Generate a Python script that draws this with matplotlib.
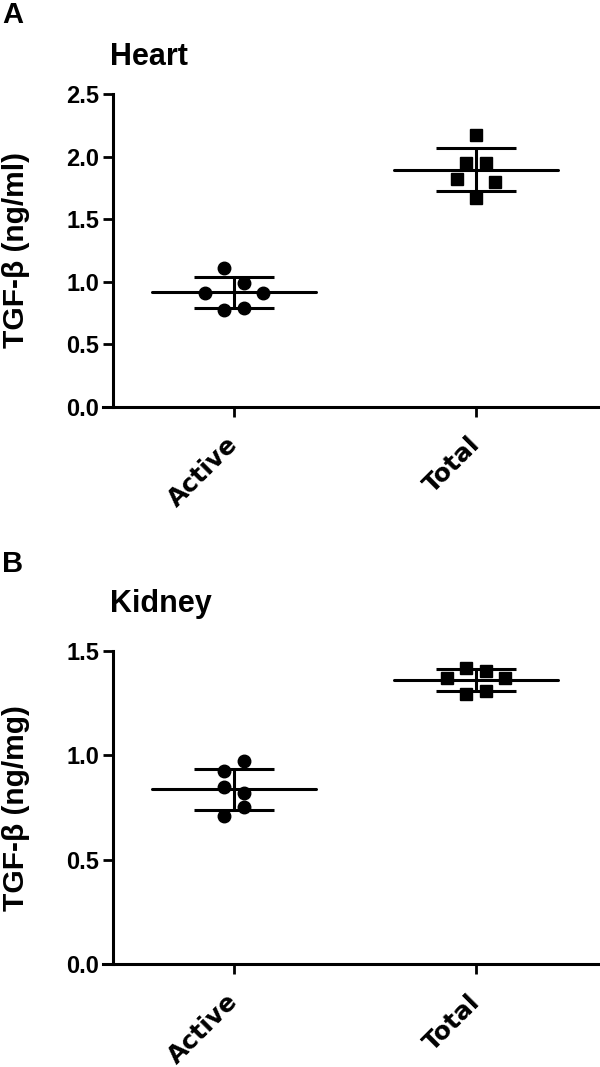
import matplotlib
matplotlib.use("Agg")
import matplotlib.pyplot as plt
import matplotlib.transforms as mtransforms
import numpy as np

plt.rcParams['font.family'] = ['Liberation Sans', 'DejaVu Sans']
plt.rcParams['font.weight'] = 'bold'

# Data
groups = ["Active", "Total"]
heart_active = [1.107, 0.987, 0.912, 0.912, 0.774, 0.787]
heart_total = [2.174, 1.952, 1.947, 1.819, 1.800, 1.672]
kidney_active = [0.971, 0.924, 0.851, 0.819, 0.755, 0.708]
kidney_total = [1.420, 1.404, 1.372, 1.372, 1.293, 1.309]

# horizontal spread of the dots (scatter layout)
heart_active_jit = [-0.04, 0.04, -0.12, 0.12, -0.04, 0.04]
heart_total_jit = [0.0, -0.04, 0.04, -0.08, 0.08, 0.0]
kidney_active_jit = [0.04, -0.04, -0.04, 0.04, 0.04, -0.04]
kidney_total_jit = [-0.04, 0.04, -0.12, 0.12, -0.04, 0.04]

fig = plt.figure(figsize=(6, 10.67), dpi=100)

W, H = 600, 1067


def panel(top_px, bottom_px, series, jits, markers, yticks, ylabel):
    ax = fig.add_axes([103 / W, 1 - bottom_px / H, 495 / W, (bottom_px - top_px) / H])
    # spine position first: it resets the tick objects
    ax.spines['top'].set_visible(False)
    ax.spines['right'].set_visible(False)
    ax.spines['left'].set_position(('data', -0.5))
    for s in ('left', 'bottom'):
        ax.spines[s].set_linewidth(2.2)

    for i, (vals, jit, mk) in enumerate(zip(series, jits, markers)):
        vals = np.array(vals)
        xs = i + np.array(jit)
        ax.plot(xs, vals, linestyle='none', marker=mk, color='black',
                markersize=9, zorder=3)
        m = vals.mean()
        sd = vals.std(ddof=1)
        ax.plot([i - 0.34, i + 0.34], [m, m], color='black', lw=2.2,
                solid_capstyle='round', zorder=4)
        ax.errorbar([i], [m], yerr=[sd], color='black', lw=2.2, capsize=29,
                    capthick=2.2, fmt='none', zorder=4)
    ax.set_xlim(-0.541, 1.504)
    ax.set_ylim(0, yticks[-1])
    ax.set_yticks(yticks)
    ax.set_yticklabels([f"{t:.1f}" for t in yticks])
    ax.set_xticks([0, 1])
    ax.set_xticklabels(groups, rotation=45, ha='right', rotation_mode='anchor',
                       family='DejaVu Sans')
    ax.tick_params(axis='both', width=2, length=7, color='black')
    ax.tick_params(axis='y', pad=3, labelsize=17)
    ax.tick_params(axis='x', pad=7, labelsize=18)
    shift = mtransforms.ScaledTranslation(-8 / 100, -6 / 100, fig.dpi_scale_trans)
    for lab in ax.get_xticklabels():
        lab.set_fontweight('bold')
        lab.set_transform(lab.get_transform() + shift)
    for lab in ax.get_yticklabels():
        lab.set_fontweight('bold')
    ax.set_ylabel(ylabel, fontsize=21.5, fontweight='bold')
    ax.yaxis.set_label_coords(-0.147, 0.5)
    return ax


panel(94, 406.7, [heart_active, heart_total],
      [heart_active_jit, heart_total_jit], ['o', 's'],
      [0.0, 0.5, 1.0, 1.5, 2.0, 2.5], "TGF-\u03b2 (ng/ml)")
panel(651, 964.3, [kidney_active, kidney_total],
      [kidney_active_jit, kidney_total_jit], ['o', 's'],
      [0.0, 0.5, 1.0, 1.5], "TGF-\u03b2 (ng/mg)")

fig.text(2 / W, 1 - 23 / H, "A", fontsize=21, fontweight='bold', va='baseline')
fig.text(110 / W, 1 - 65 / H, "Heart", fontsize=22, fontweight='bold', va='baseline')
fig.text(2 / W, 1 - 572 / H, "B", fontsize=21, fontweight='bold', va='baseline')
fig.text(110 / W, 1 - 612 / H, "Kidney", fontsize=22, fontweight='bold', va='baseline')

fig.savefig("out.png", dpi=100)
